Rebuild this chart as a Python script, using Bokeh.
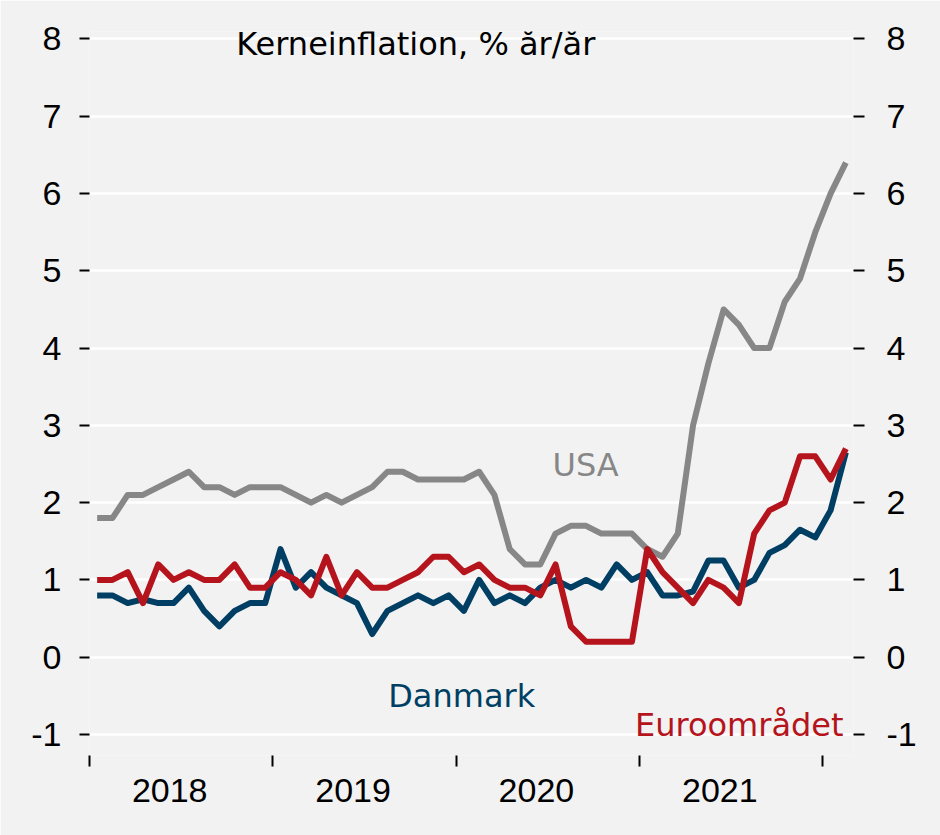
from bokeh.plotting import figure
from bokeh.models import FixedTicker, LinearAxis, Range1d, Label
from bokeh.embed import file_html
from bokeh.resources import INLINE

# ---- data (monthly, Jan 2018 - Feb 2022) ----
years = ["2018", "2019", "2020", "2021"]
usa = [1.8, 1.8, 2.1, 2.1, 2.2, 2.3, 2.4, 2.2, 2.2, 2.1, 2.2, 2.2,
       2.2, 2.1, 2.0, 2.1, 2.0, 2.1, 2.2, 2.4, 2.4, 2.3, 2.3, 2.3,
       2.3, 2.4, 2.1, 1.4, 1.2, 1.2, 1.6, 1.7, 1.7, 1.6, 1.6, 1.6,
       1.4, 1.3, 1.6, 3.0, 3.8, 4.5, 4.3, 4.0, 4.0, 4.6, 4.9, 5.5,
       6.0, 6.4]
danmark = [0.8, 0.8, 0.7, 0.75, 0.7, 0.7, 0.9, 0.6, 0.4, 0.6, 0.7, 0.7,
           1.4, 0.9, 1.1, 0.9, 0.8, 0.7, 0.3, 0.6, 0.7, 0.8, 0.7, 0.8,
           0.6, 1.0, 0.7, 0.8, 0.7, 0.9, 1.0, 0.9, 1.0, 0.9, 1.2, 1.0,
           1.1, 0.8, 0.8, 0.85, 1.25, 1.25, 0.9, 1.0, 1.35, 1.45, 1.65, 1.55,
           1.9, 2.65]
euro = [1.0, 1.0, 1.1, 0.7, 1.2, 1.0, 1.1, 1.0, 1.0, 1.2, 0.9, 0.9,
        1.1, 1.0, 0.8, 1.3, 0.8, 1.1, 0.9, 0.9, 1.0, 1.1, 1.3, 1.3,
        1.1, 1.2, 1.0, 0.9, 0.9, 0.8, 1.2, 0.4, 0.2, 0.2, 0.2, 0.2,
        1.4, 1.1, 0.9, 0.7, 1.0, 0.9, 0.7, 1.6, 1.9, 2.0, 2.6, 2.6,
        2.3, 2.7]
y_ticks = [-1, 0, 1, 2, 3, 4, 5, 6, 7, 8]
y_labels = ["-1", "0", "1", "2", "3", "4", "5", "6", "7", "8"]

BG = "#f2f2f2"
GRAY = "#878787"
BLUE = "#003f63"
RED = "#b5141d"
AXFONT = "Liberation Sans"
TXTFONT = "DejaVu Sans"

months = [i + 0.5 for i in range(len(usa))]

p = figure(width=940, height=835, output_backend="svg", toolbar_location=None,
           x_range=Range1d(0, 50), y_range=Range1d(-1.272, 8.097),
           min_border_left=89, min_border_right=87, min_border_top=31,
           min_border_bottom=80, background_fill_color=BG, border_fill_color=BG,
           outline_line_color=None, y_axis_location=None)

p.xgrid.grid_line_color = None
p.ygrid.ticker = FixedTicker(ticks=y_ticks)
p.ygrid.grid_line_color = "white"
p.ygrid.grid_line_width = 2.5

# x axis
xa = p.xaxis[0]
xa.ticker = FixedTicker(ticks=[12 * i + 5.25 for i in range(len(years))],
                        minor_ticks=[12 * i for i in range(len(years) + 1)])
xa.major_label_overrides = {12 * i + 5.25: y for i, y in enumerate(years)}
xa.major_tick_line_color = None
xa.major_tick_out = 11
xa.major_tick_in = 0
xa.minor_tick_out = 11
xa.minor_tick_in = 0
xa.minor_tick_line_color = "black"
xa.minor_tick_line_width = 2
xa.axis_line_color = None
xa.major_label_text_font = AXFONT
xa.major_label_text_font_size = "34px"
xa.major_label_text_color = "black"
xa.major_label_standoff = 12

# y axes
for side, tick_out, standoff in (("left", 10, 18), ("right", 11, 22)):
    ax = LinearAxis(ticker=FixedTicker(ticks=y_ticks))
    ax.major_label_overrides = {t: s for t, s in zip(y_ticks, y_labels)}
    ax.major_tick_out = tick_out
    ax.major_tick_in = 0
    ax.major_tick_line_color = "black"
    ax.major_tick_line_width = 2
    ax.minor_tick_line_color = None
    ax.axis_line_color = None
    ax.major_label_text_font = AXFONT
    ax.major_label_text_font_size = "34px"
    ax.major_label_text_color = "black"
    ax.major_label_standoff = standoff
    p.add_layout(ax, side)

p.line(months, usa, line_color=GRAY, line_width=6, line_join="round")
p.line(months, danmark, line_color=BLUE, line_width=6, line_join="round")
p.line(months, euro, line_color=RED, line_width=6, line_join="round")

p.add_layout(Label(x=9.6, y=7.93, text="Kerneinflation, % år/år",
                   text_font=TXTFONT, text_font_size="32px", text_color="black",
                   text_baseline="middle", text_align="left"))
p.add_layout(Label(x=30.3, y=2.49, text="USA", text_font=TXTFONT,
                   text_font_size="32px", text_color=GRAY,
                   text_baseline="middle", text_align="left"))
p.add_layout(Label(x=19.55, y=-0.5, text="Danmark", text_font=TXTFONT,
                   text_font_size="32px", text_color=BLUE,
                   text_baseline="middle", text_align="left"))
p.add_layout(Label(x=35.7, y=-0.88, text="Euroområdet", text_font=TXTFONT,
                   text_font_size="32px", text_color=RED,
                   text_baseline="middle", text_align="left"))

open("out.html", "w").write(file_html(p, INLINE))
